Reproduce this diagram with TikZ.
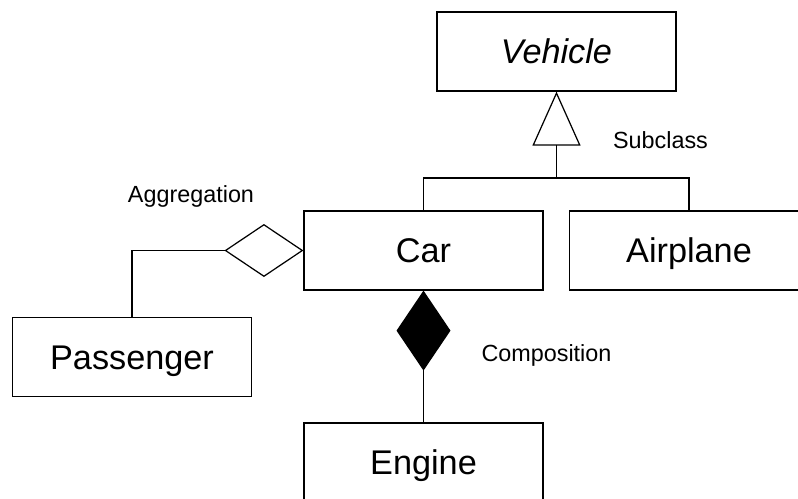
\documentclass[tikz,border=0pt]{standalone}
\usepackage{fontspec}
\setmainfont{Liberation Sans}
\usetikzlibrary{arrows.meta}
\begin{document}
\begin{tikzpicture}[x=0.02cm, y=-0.02cm, line width=0.7pt,
  classbox/.style={draw, rectangle, inner sep=0pt, minimum width=4.78cm, minimum height=1.58cm,
    font=\fontsize{19.5pt}{22pt}\selectfont, text height=13.96pt, text depth=0pt},
  tag/.style={inner sep=0pt, font=\fontsize{13.3pt}{16pt}\selectfont, text height=9.52pt, text depth=0pt},
  inherit/.style={-{Triangle[open, length=1.08cm, width=0.96cm]}},
  aggr/.style={-{Diamond[open, length=1.58cm, width=1.06cm]}},
  compo/.style={-{Diamond[length=1.6cm, width=1.08cm]}}]
\useasboundingbox (0,0) rectangle (798,498);
\clip (0,0) rectangle (798,498);

% classes
\node[classbox] (vehicle)   at (556.5,51.5) {\itshape Vehicle};
\node[classbox] (car)       at (423.5,250.5) {Car};
\node[classbox] (airplane)  at (689,250.5) {Airplane};
\node[classbox] (passenger) at (132,357) {Passenger};
\node[classbox] (engine)    at (423.5,462.5) {Engine};

% generalisation tree
\coordinate (split) at (vehicle.south |- 0,178);
\draw (car.north) |- (split) -| (airplane.north);
\draw[inherit] (split) -- (vehicle.south);

% aggregation and composition
\draw[aggr] (passenger.north) |- (car.west);
\draw[compo] (engine.north) -- (car.south);

% relation labels
\node[tag] (subclass)    at (660.5,140) {Subclass};
\node[tag] (aggregation) at (191,194.5) {Aggregation};
\node[tag] (composition) at (546.5,353) {Composition};
\end{tikzpicture}
\end{document}
